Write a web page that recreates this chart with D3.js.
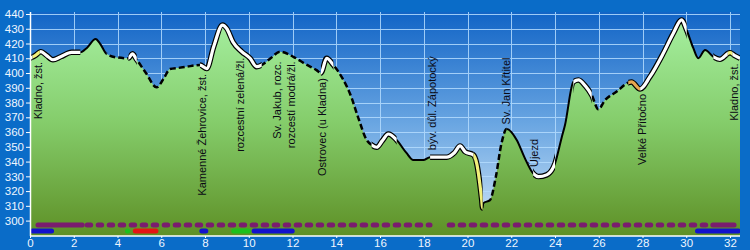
<!DOCTYPE html>
<html>
<head>
<meta charset="utf-8">
<script src="https://cdn.jsdelivr.net/npm/d3@7"></script>
<style>
body { margin: 0; background: #0a6cc8; }
svg { display: block; font-family: Arial, "Liberation Sans", sans-serif; }
</style>
</head>
<body>
<div id="chart"></div>
<script>
// profile: distance (km) and elevation (m)
var profileKm = [0, 0.25, 0.5, 0.75, 1.05, 1.4, 1.9, 2.3, 2.6, 3.0, 3.2, 3.5, 3.96, 4.5, 4.68, 4.88, 5.3, 5.79, 6.1, 6.4,
    6.8, 7.16, 7.77, 8.08, 8.4, 8.8, 9.0, 9.28, 9.68, 10.06, 10.36, 10.59, 11.0, 11.43, 12.04, 12.6, 13.1, 13.3, 13.56, 13.87,
    14.3, 14.63, 15.0, 15.39, 15.62, 15.85, 16.1, 16.38, 16.76, 17.2, 17.52, 17.98, 18.29, 19.05, 19.4, 19.66, 19.89, 20.27, 20.42, 20.65,
    20.69, 20.72, 21.03, 21.3, 21.55, 21.79, 22.25, 22.6, 23.0, 23.24, 23.62, 24.0, 24.3, 24.46, 24.84, 25.07, 25.4, 25.68, 25.98, 26.29,
    26.82, 27.35, 27.5, 27.89, 28.34, 28.95, 29.41, 29.79, 30.02, 30.32, 30.55, 30.86, 31.24, 31.54, 32.0, 32.2, 32.46];
var profileElev = [410, 412, 414.5, 412, 409, 411, 414, 414, 417, 423, 420, 413, 410.6, 410, 413, 409, 400, 390.3, 396, 402.7,
    403.5, 404.3, 405.4, 403, 418, 432.5, 430, 421, 414.5, 410, 404.3, 405.4, 410, 414.5, 411, 406, 402, 400, 410, 405.4,
    396, 386, 370, 354.6, 351.2, 349.7, 354, 358.7, 354.6, 346, 341, 341, 343, 343, 346, 350.6, 346.7, 344.5, 338.8, 314,
    308.5, 311.7, 314, 330, 352, 362, 354.6, 343, 332, 329.8, 331, 338.8, 356, 365, 394, 395.3, 391, 385, 375.4, 381.7,
    387.4, 393.5, 394, 389.2, 397.5, 413.4, 427, 436, 429, 417, 410, 415.6, 411, 409.3, 413.8, 412, 410];

// surface type of each stretch [from km, to km, type]
var segments = [
    [0, 0.12, "road"], [0.12, 0.45, "yellow"], [0.45, 2.3, "road"], [2.3, 3.5, "solid"], [3.5, 4.5, "dash"],
    [4.5, 4.88, "road"], [4.88, 7.77, "dash"], [7.77, 10.59, "road"], [10.59, 13.3, "dash"], [13.3, 13.87, "road"],
    [13.87, 15.62, "dash"], [15.62, 16.76, "road"], [16.76, 18.29, "solid"], [18.29, 20.27, "road"], [20.27, 20.69, "yellow"],
    [20.69, 21.03, "solid"], [21.03, 21.79, "dash"], [21.79, 23.0, "solid"], [23.0, 24.0, "road"], [24.0, 24.84, "solid"],
    [24.84, 25.68, "road"], [25.68, 27.35, "dash"], [27.35, 27.89, "orange"], [27.89, 30.02, "road"], [30.02, 31.24, "solid"],
    [31.24, 31.9, "road"], [31.9, 32.1, "yellow"], [32.1, 32.46, "road"]
];

// place names
var placeKm = [0.35, 7.85, 9.6, 11.63, 13.35, 18.4, 21.75, 23.05, 28.0, 32.2];
var placeNames = ["Kladno, žst.", "Kamenné Žehrovice, žst.", "rozcestní zelená/žl.", "Sv. Jakub, rozc.\nrozcestí modrá/žl.",
    "Ostrovec (u Kladna)", "býv. důl. Zápotocký", "Sv. Jan Křtitel", "Újezd", "Velké Přítočno", "Kladno, žst."];

// marking strips along the route [from km, to km]
var purpleSolid = [[0.25, 2.5], [31.1, 32.3]];
var purpleDotted = [[2.5, 18.4], [19.05, 31.1]];
var blueBars = [[0, 1.1], [7.74, 8.15], [10.13, 12.1], [30.4, 32.5]];
var redBars = [[4.7, 5.87]];
var greenBars = [[4.35, 4.57], [9.2, 10.1]];

var xTicks = d3.range(0, 33, 2);
var yTicks = d3.range(300, 441, 10);

var W = 750, H = 250;
var pL = 30, pR = 740, pT = 12, pB = 236;

var svg = d3.select("#chart").append("svg")
    .attr("width", W)
    .attr("height", H);

var x = d3.scaleLinear().domain([0, 32]).range([30, 730]);
var y = d3.scaleLinear().domain([300, 440]).range([220.6, 14]);
var elevAt = d3.scaleLinear().domain(profileKm).range(profileElev);

var data = profileKm.map(function(k, i) { return { km: k, m: profileElev[i] }; });

var defs = svg.append("defs");
var sky = defs.append("linearGradient").attr("id", "sky")
    .attr("gradientUnits", "userSpaceOnUse")
    .attr("x1", 0).attr("y1", pT).attr("x2", 0).attr("y2", pB);
sky.append("stop").attr("offset", 0).attr("stop-color", "#1164c6");
sky.append("stop").attr("offset", 0.5).attr("stop-color", "#6aa6e2");
sky.append("stop").attr("offset", 1).attr("stop-color", "#d4e8f8");
var grass = defs.append("linearGradient").attr("id", "grass")
    .attr("gradientUnits", "userSpaceOnUse")
    .attr("x1", 0).attr("y1", pT).attr("x2", 0).attr("y2", pB);
grass.append("stop").attr("offset", 0).attr("stop-color", "#a8f2a4");
grass.append("stop").attr("offset", 0.5).attr("stop-color", "#84cc6a");
grass.append("stop").attr("offset", 1).attr("stop-color", "#5e9026");

defs.append("clipPath").attr("id", "plotClip")
    .append("rect").attr("x", pL).attr("y", pT).attr("width", pR - pL).attr("height", pB - pT);

// background of plot
svg.append("rect")
    .attr("x", pL).attr("y", pT)
    .attr("width", pR - pL).attr("height", pB - pT)
    .attr("fill", "url(#sky)");

// grid
var grid = svg.append("g").attr("stroke", "#b4dcff").attr("stroke-width", 1).attr("opacity", 0.85);
grid.selectAll(".h").data(yTicks).enter().append("line")
    .attr("x1", pL).attr("x2", pR)
    .attr("y1", function(d) { return Math.round(y(d)) + 0.5; })
    .attr("y2", function(d) { return Math.round(y(d)) + 0.5; });
grid.selectAll(".v").data(xTicks.slice(1)).enter().append("line")
    .attr("y1", pT).attr("y2", pB)
    .attr("x1", function(d) { return Math.round(x(d)) + 0.5; })
    .attr("x2", function(d) { return Math.round(x(d)) + 0.5; });

var plot = svg.append("g").attr("clip-path", "url(#plotClip)");

// terrain
plot.append("path")
    .datum(data)
    .attr("fill", "url(#grass)")
    .attr("d", d3.area()
        .x(function(d) { return x(d.km); })
        .y0(pB)
        .y1(function(d) { return y(d.m); })
        .curve(d3.curveMonotoneX));

var line = d3.line()
    .x(function(d) { return x(d.km); })
    .y(function(d) { return y(d.m); })
    .curve(d3.curveMonotoneX);

// each stretch draws the profile line clipped to its own km range
segments.forEach(function(s, i) {
    defs.append("clipPath").attr("id", "seg" + i)
        .append("rect")
        .attr("x", x(s[0])).attr("y", 0)
        .attr("width", x(s[1]) - x(s[0])).attr("height", H);
});

function drawStretch(type, stroke, width, dash) {
    segments.forEach(function(s, i) {
        if (s[2] != type) return;
        plot.append("g").attr("clip-path", "url(#seg" + i + ")")
            .append("path")
            .datum(data)
            .attr("d", line)
            .attr("fill", "none")
            .attr("stroke", stroke)
            .attr("stroke-width", width)
            .attr("stroke-dasharray", dash)
            .attr("stroke-linejoin", "round");
    });
}
drawStretch("dash", "#000", 2.5, "6,3");
drawStretch("solid", "#000", 2, null);
["road", "yellow", "orange"].forEach(function(t) { drawStretch(t, "#000", 5.5, null); });
drawStretch("road", "#fff", 3.2, null);
drawStretch("yellow", "#f2f07a", 3.2, null);
drawStretch("orange", "#e6a650", 3.2, null);

// marking strips
function strip(list, yPos, color, dash) {
    plot.selectAll(null).data(list).enter().append("line")
        .attr("x1", function(d) { return x(d[0]) + 2.5; })
        .attr("x2", function(d) { return x(d[1]) - 2.5; })
        .attr("y1", yPos).attr("y2", yPos)
        .attr("stroke", color)
        .attr("stroke-width", 5)
        .attr("stroke-linecap", "round")
        .attr("stroke-dasharray", dash);
}
strip(purpleDotted, 225, "#7a1c6e", "3.5,7.5");
strip(purpleSolid, 225, "#7a1c6e", null);
strip(greenBars, 231, "#1cc01c", null);
strip(redBars, 231, "#e41414", null);
strip(blueBars, 231, "#1212cc", null);

// place names, rotated; below the line unless the valley is deep
placeKm.forEach(function(k, i) {
    var lines = placeNames[i].split("\n");
    var py = y(elevAt(k));
    var above = elevAt(k) < 370;
    lines.forEach(function(t, j) {
        var cx = x(k) + (j - (lines.length - 1) / 2) * 14;
        var cy = above ? py - 7 : py + 8;
        svg.append("text")
            .attr("transform", "translate(" + cx + "," + cy + ") rotate(-90)")
            .attr("text-anchor", above ? "start" : "end")
            .attr("dy", "0.35em")
            .attr("font-size", 11)
            .attr("fill", "#0a0a14")
            .text(t);
    });
});

// axes
svg.append("line").attr("x1", pL + 0.5).attr("x2", pL + 0.5).attr("y1", pT).attr("y2", pB)
    .attr("stroke", "#fff").attr("stroke-width", 1.5);
svg.append("line").attr("x1", pL).attr("x2", pR).attr("y1", pB).attr("y2", pB)
    .attr("stroke", "#fff").attr("stroke-width", 1.5);

var yAxis = svg.append("g")
    .attr("transform", "translate(" + pL + ",0)")
    .call(d3.axisLeft(y).tickValues(yTicks).tickSize(4).tickSizeOuter(0).tickPadding(2));
var xAxis = svg.append("g")
    .attr("transform", "translate(0," + pB + ")")
    .call(d3.axisBottom(x).tickValues(xTicks).tickSize(2).tickSizeOuter(0).tickPadding(1));
[yAxis, xAxis].forEach(function(a) {
    a.select(".domain").remove();
    a.selectAll("line").attr("stroke", "#fff");
    a.selectAll("text").attr("fill", "#eef6ff").attr("font-size", 11.5)
        .attr("font-family", "Arial, 'Liberation Sans', sans-serif");
});
</script>
</body>
</html>
